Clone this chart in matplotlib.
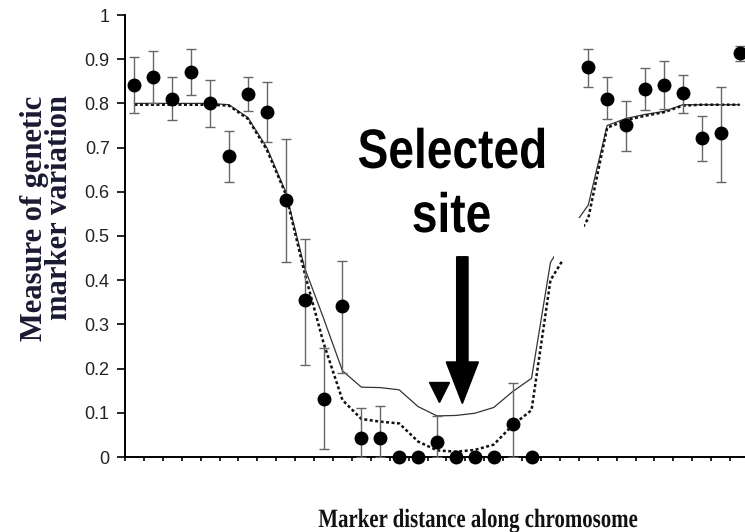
import numpy as np
import matplotlib
matplotlib.use("Agg")
import matplotlib.pyplot as plt
from matplotlib.patches import Rectangle, PathPatch
from matplotlib.textpath import TextPath
from matplotlib.font_manager import FontProperties
from matplotlib.transforms import Affine2D, ScaledTranslation

# marker index along the chromosome (categories 0..32)
positions = np.arange(33)

# observed marker variation (nan = no marker)
observed = [0.842, 0.860, 0.810, 0.872, 0.800, 0.681, 0.821, 0.780, 0.581, 0.355,
            0.131, 0.342, 0.042, 0.042, 0.0, 0.0, 0.035, 0.0, 0.0, 0.0,
            0.075, 0.0, np.nan, np.nan, 0.882, 0.811, 0.751, 0.832, 0.842, 0.823,
            0.722, 0.732, 0.913]
err_low = [0.778, 0.800, 0.762, 0.819, 0.746, 0.623, 0.783, 0.712, 0.442, 0.208,
           0.017, 0.190, 0.0, 0.0, 0.0, 0.0, 0.0, 0.0, 0.0, 0.0,
           0.0, 0.0, np.nan, np.nan, 0.836, 0.765, 0.693, 0.785, 0.787, 0.778,
           0.670, 0.623, 0.895]
err_high = [0.904, 0.919, 0.859, 0.922, 0.853, 0.738, 0.859, 0.849, 0.719, 0.493,
            0.247, 0.444, 0.110, 0.115, 0.0, 0.0, 0.093, 0.0, 0.0, 0.0,
            0.167, 0.0, np.nan, np.nan, 0.923, 0.859, 0.806, 0.879, 0.897, 0.864,
            0.772, 0.838, 0.930]

# model predictions
model_solid = [0.800, 0.800, 0.800, 0.800, 0.800, 0.797, 0.768, 0.700, 0.600, 0.428,
               0.314, 0.195, 0.158, 0.157, 0.152, 0.114, 0.093, 0.094, 0.099, 0.112,
               0.148, 0.178, 0.440, 0.510, 0.570, 0.750, 0.766, 0.775, 0.782, 0.797,
               0.797, 0.797, 0.797]
model_dotted = [0.797, 0.797, 0.797, 0.797, 0.797, 0.795, 0.765, 0.695, 0.595, 0.416,
                0.258, 0.129, 0.086, 0.080, 0.076, 0.035, 0.015, 0.012, 0.016, 0.028,
                0.072, 0.106, 0.400, 0.470, 0.540, 0.745, 0.762, 0.772, 0.780, 0.795,
                0.797, 0.797, 0.797]

y_ticks = [0, 0.1, 0.2, 0.3, 0.4, 0.5, 0.6, 0.7, 0.8, 0.9, 1]
y_tick_labels = ["0", "0.1", "0.2", "0.3", "0.4", "0.5", "0.6", "0.7", "0.8", "0.9", "1"]

selected_x = 17.34
arrow_top, arrow_tip = 0.453, 0.121
triangle_x, triangle_y = 16.1, 0.148

observed = np.array(observed)
yerr = np.array([observed - np.array(err_low), np.array(err_high) - observed])

fig = plt.figure(figsize=(7.45, 5.32), dpi=100)
ax = fig.add_axes([125 / 745, 75 / 532, 624 / 745, 442 / 532])


def squeezed_text(x, y, s, size, xscale, transform, family, color="black"):
    # the source scan is horizontally squashed; no narrow font is installed,
    # so draw the glyphs as a path and squeeze them ourselves
    path = TextPath((0, 0), s, size=size, prop=FontProperties(family=family, weight="bold"))
    bb = path.get_extents()
    tr = (Affine2D().translate(-(bb.x0 + bb.x1) / 2, 0)
          .scale(xscale * fig.dpi / 72, fig.dpi / 72)
          + ScaledTranslation(x, y, transform))
    fig.add_artist(PathPatch(path, facecolor=color, edgecolor="none", lw=0,
                             transform=tr, zorder=7))


ax.plot(positions, model_solid, color="#333333", lw=0.9, zorder=2)
ax.plot(positions, model_dotted, color="#111111", lw=1.8, linestyle=(0, (1.2, 1.0)), zorder=2)

# white blotch in the original scan where both curves are broken
ax.add_patch(Rectangle((22.2, 0.445), 1.55, 0.095, facecolor="white", edgecolor="none", zorder=3))

ax.errorbar(positions, observed, yerr=yerr, fmt="none", ecolor="#666666",
            elinewidth=1.0, capsize=3.5, capthick=1.0, zorder=4)
ax.plot(positions, observed, "o", color="black", ms=9, clip_on=False, zorder=5)

ax.arrow(selected_x, arrow_top, 0, arrow_tip - arrow_top, width=0.6, head_width=1.7,
         head_length=0.094, length_includes_head=True, color="black", zorder=6)
ax.plot([triangle_x], [triangle_y], "v", color="black", ms=15, zorder=6)

squeezed_text(16.77, 0.654, "Selected", 40, 0.83, ax.transData, "Liberation Sans")
squeezed_text(16.77, 0.509, "site", 40, 0.83, ax.transData, "Liberation Sans")

ax.set_xlim(-0.5, 32.5)
ax.set_ylim(0, 1)
ax.set_xticks(np.arange(-0.5, 33, 1))
ax.set_xticklabels([])
ax.set_yticks(y_ticks)
ax.set_yticklabels(y_tick_labels, fontsize=13, family="Liberation Sans", color="#222222")
ax.tick_params(axis="y", direction="out", length=6, width=1.2, pad=5)
ax.tick_params(axis="x", direction="out", length=3, width=1.2)

for side in ["top", "right"]:
    ax.spines[side].set_visible(False)
for side in ["left", "bottom"]:
    ax.spines[side].set_linewidth(1.4)

fig.text(47 / 745, 1 - 218 / 532, "Measure of genetic\nmarker variation", rotation=90,
         ha="center", va="center", multialignment="right", fontsize=22,
         fontweight="bold", family="Liberation Serif", color="#1a1a33", linespacing=0.85)

squeezed_text(478 / 745, 1 - 527 / 532, "Marker distance along chromosome", 19, 0.79,
              fig.transFigure, "Liberation Serif", color="#111111")

fig.savefig("out.png", dpi=100)
